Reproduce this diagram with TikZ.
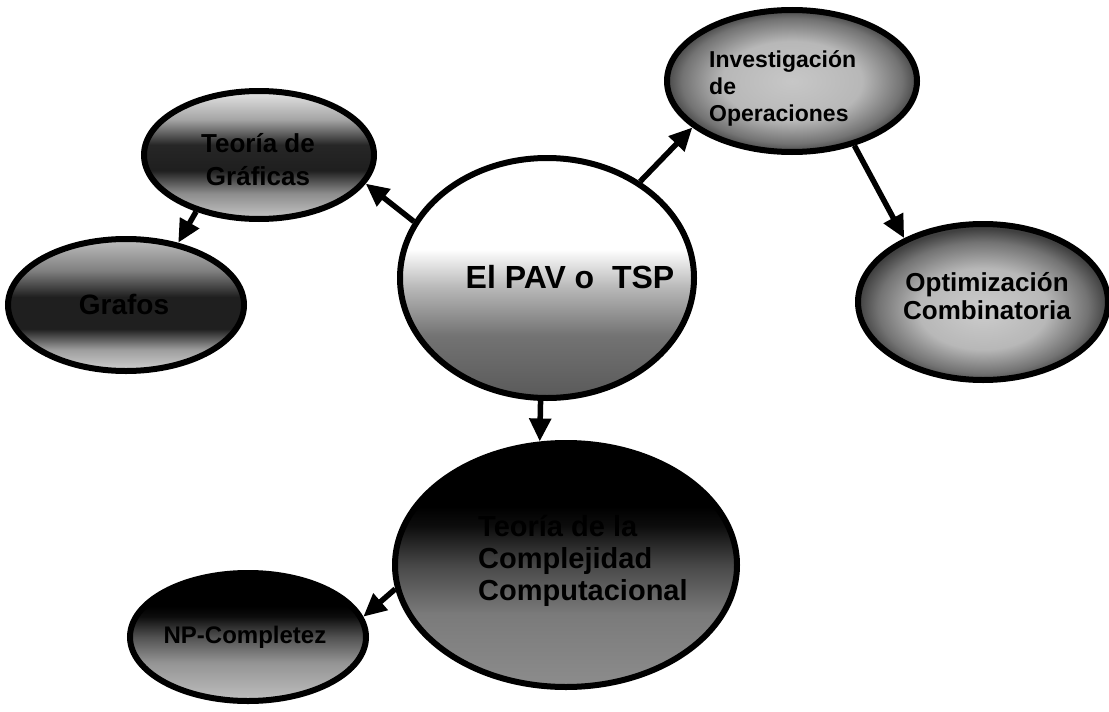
\documentclass[tikz,border=0pt]{standalone}
\usepackage{fontspec}
\setmainfont{Liberation Sans}
\usetikzlibrary{shapes.geometric,arrows.meta}

% vertical shadings (the path spans 25bp..75bp)
\pgfdeclareverticalshading{pavshade}{100bp}{color(0bp)=(black!65); color(25bp)=(black!65); color(38bp)=(black!55); color(48bp)=(black!28); color(56bp)=(white); color(100bp)=(white)}
\pgfdeclareverticalshading{teoshade}{100bp}{color(0bp)=(black!22); color(25bp)=(black!22); color(35bp)=(black!45); color(44bp)=(black!88); color(54bp)=(black!85); color(64bp)=(black!35); color(75bp)=(black!10); color(100bp)=(black!10)}
\pgfdeclareverticalshading{grafshade}{100bp}{color(0bp)=(black!18); color(25bp)=(black!18); color(33bp)=(black!38); color(41bp)=(black!88); color(53bp)=(black!88); color(63bp)=(black!50); color(75bp)=(black!25); color(100bp)=(black!25)}
\pgfdeclareverticalshading{compshade}{100bp}{color(0bp)=(black!45); color(25bp)=(black!45); color(40bp)=(black!52); color(50bp)=(black!72); color(58bp)=(black!95); color(62bp)=(black); color(100bp)=(black)}
\pgfdeclareverticalshading{npshade}{100bp}{color(0bp)=(black!25); color(25bp)=(black!25); color(40bp)=(black!42); color(50bp)=(black!68); color(58bp)=(black!95); color(62bp)=(black); color(100bp)=(black)}
% radial shadings, darker toward the rim
\pgfdeclareradialshading{invshade}{\pgfpoint{0bp}{0bp}}{color(0bp)=(black!22); color(14bp)=(black!28); color(22bp)=(black!55); color(25bp)=(black!72); color(50bp)=(black!72)}
\pgfdeclareradialshading{optshade}{\pgfpoint{0bp}{-3bp}}{color(0bp)=(black!20); color(13bp)=(black!28); color(21bp)=(black!55); color(25bp)=(black!75); color(50bp)=(black!75)}

\tikzset{
  bubble/.style={ellipse, draw=black, line width=6pt, inner sep=0pt, shade},
  caption/.style={text=black, inner sep=0pt},
  link/.style={line width=5.5pt, -{Triangle[length=23pt,width=21pt]}}
}

\begin{document}
\begin{tikzpicture}[x=1pt,y=-1pt]
\useasboundingbox (0,0) rectangle (1109,712);

% the ellipses
\node[bubble, shading=teoshade, minimum width=230pt, minimum height=128pt] (teoria) at (259,155) {};
\node[bubble, shading=grafshade, minimum width=236pt, minimum height=132pt] (grafos) at (126,305) {};
\node[bubble, shading=pavshade, minimum width=294pt, minimum height=240pt] (pav) at (547,278) {};
\node[bubble, shading=invshade, minimum width=250pt, minimum height=142pt] (invop) at (792,81) {};
\node[bubble, shading=optshade, minimum width=250pt, minimum height=156pt] (optim) at (983,302) {};
\node[bubble, shading=compshade, minimum width=342pt, minimum height=244pt] (complej) at (566,565) {};
\node[bubble, shading=npshade, minimum width=236pt, minimum height=128pt] (npc) at (248,637) {};

% the texts
\node[caption, font=\bfseries\fontsize{26}{33}\selectfont, align=center] (teoriaT) at (258,160) {Teoría de\\Gráficas};
\node[caption, font=\bfseries\fontsize{28}{32}\selectfont] (grafosT) at (124,304) {Grafos};
\node[caption, font=\bfseries\fontsize{32}{36}\selectfont] (pavT) at (570,277) {El PAV o \ TSP};
\node[caption, font=\bfseries\fontsize{23}{27}\selectfont, align=left, anchor=west] (invopT) at (709,88) {Investigación\\de\\Operaciones};
\node[caption, font=\bfseries\fontsize{26}{28}\selectfont, align=center] (optimT) at (987,296) {Optimización\\Combinatoria};
\node[caption, font=\bfseries\fontsize{29}{32}\selectfont, align=left, anchor=west] (complejT) at (478,561) {Teoría de la\\Complejidad\\Computacional};
\node[caption, font=\bfseries\fontsize{24}{28}\selectfont] (npcT) at (245,637) {NP-Completez};

% the connectors
\draw[link] (pav.157) -- (teoria.-15);
\draw[link] (teoria.-138) -- (grafos.50);
\draw[link] (pav.46) -- (invop.205);
\draw[link] (invop.-46) -- (optim.141);
\draw[link] (pav.-93) -- (complej.102);
\draw[link] (complej.188) -- (npc.10);
\end{tikzpicture}
\end{document}
